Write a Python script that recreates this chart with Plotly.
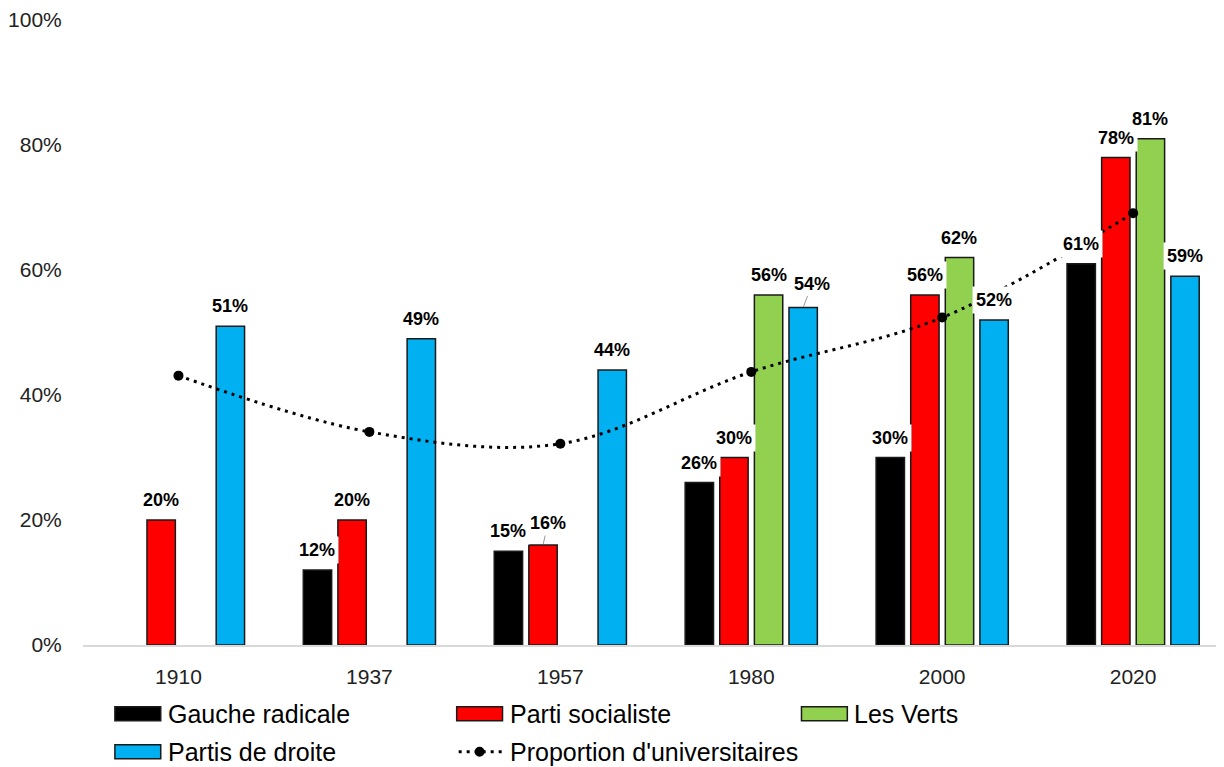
import plotly.graph_objects as go

years = ["1910", "1937", "1957", "1980", "2000", "2020"]
gauche_radicale = [None, 12, 15, 26, 30, 61]
parti_socialiste = [20, 20, 16, 30, 56, 78]
les_verts = [None, None, None, 56, 62, 81]
partis_droite = [51, 49, 44, 54, 52, 59]
universitaires = [43.1, 34.1, 32.2, 43.7, 52.4, 69.1]

series = [
    ("Gauche radicale", gauche_radicale, "#000000"),
    ("Parti socialiste", parti_socialiste, "#FF0000"),
    ("Les Verts", les_verts, "#92D050"),
    ("Partis de droite", partis_droite, "#00B0F0"),
]

OFF = 8  # page body margin
W, H = 1224 - OFF, 767 - OFF
L, R, T, B = 79 - OFF, 0, 18 - OFF, 122
PW, PH = W - L - R, H - T - B
BARGAP = 0.275
BARGROUPGAP = 0.18
FONT = "Liberation Sans, Arial, sans-serif"

fig = go.Figure()
for name, vals, col in series:
    fig.add_trace(go.Bar(
        x=years, y=vals, name=name, marker_color=col,
        marker_line=dict(color="#1a1a1a", width=1.5), showlegend=False,
    ))

fig.add_trace(go.Scatter(
    x=years, y=universitaires, name="Proportion d'universitaires",
    mode="lines+markers", line=dict(color="black", width=3, dash="3px,5px", shape="spline"),
    marker=dict(color="black", size=10), showlegend=False,
))

# data labels
slot = (1 - BARGAP) / 4
special = {(3, 3): (9, -24), (1, 2): (5, -22)}  # leader-line labels
for k, (name, vals, col) in enumerate(series):
    for i, v in enumerate(vals):
        if v is None:
            continue
        xpos = i + (k - 1.5) * slot
        if (k, i) in special:
            ax, ay = special[(k, i)]
            fig.add_annotation(x=xpos, y=v, text=f"<b>{v}%</b>", showarrow=True,
                               arrowhead=0, arrowcolor="#999999", arrowwidth=1,
                               ax=ax, ay=ay, standoff=1,
                               font=dict(family=FONT, size=18, color="black"),
                               bgcolor="white", borderpad=2)
        else:
            fig.add_annotation(x=xpos, y=v, text=f"<b>{v}%</b>", showarrow=False,
                               yanchor="bottom", yshift=6,
                               font=dict(family=FONT, size=18, color="black"),
                               bgcolor="white", borderpad=3)

# custom legend (positions in page pixels)
def px_x(p):
    return (p - OFF - L) / PW

def px_y(p):
    return (H - B - (p - OFF)) / PH

legend_items = [
    ("Gauche radicale", "#000000", 111, 714, "bar"),
    ("Parti socialiste", "#FF0000", 454, 714, "bar"),
    ("Les Verts", "#92D050", 800, 714, "bar"),
    ("Partis de droite", "#00B0F0", 111, 752, "bar"),
    ("Proportion d'universitaires", "#000000", 454, 752, "line"),
]
sw_w, sw_h = 46, 14
for text, col, x0, yc, kind in legend_items:
    if kind == "bar":
        fig.add_shape(type="rect", xref="paper", yref="paper",
                      x0=px_x(x0), x1=px_x(x0 + sw_w),
                      y0=px_y(yc - sw_h / 2), y1=px_y(yc + sw_h / 2),
                      fillcolor=col, line=dict(color="#1a1a1a", width=1.5))
    else:
        fig.add_shape(type="line", xref="paper", yref="paper",
                      x0=px_x(x0 + 2), x1=px_x(x0 + sw_w), y0=px_y(yc), y1=px_y(yc),
                      line=dict(color="black", width=3, dash="3px,5px"))
        fig.add_shape(type="circle", xref="paper", yref="paper",
                      x0=px_x(x0 + sw_w / 2 - 5), x1=px_x(x0 + sw_w / 2 + 5),
                      y0=px_y(yc - 5), y1=px_y(yc + 5),
                      fillcolor="black", line=dict(color="black", width=0))
    fig.add_annotation(xref="paper", yref="paper", x=px_x(x0 + sw_w + 5), y=px_y(yc),
                       xanchor="left", yanchor="middle", showarrow=False, text=text,
                       font=dict(family=FONT, size=25, color="black"))

fig.update_layout(
    width=W, height=H, autosize=False,
    margin=dict(l=L, r=R, t=T, b=B, pad=0),
    paper_bgcolor="white", plot_bgcolor="white",
    barmode="group", bargap=BARGAP, bargroupgap=BARGROUPGAP,
    font=dict(family=FONT, size=20, color="black"),
    showlegend=False,
)
fig.update_xaxes(type="category", range=[-0.5, 5.476], showline=True,
                 linecolor="#D9D9D9", linewidth=1.5, showgrid=False,
                 ticks="outside", ticklen=12, tickcolor="rgba(0,0,0,0)",
                 tickfont=dict(family=FONT, size=21, color="#222"))
fig.update_yaxes(range=[0, 100], dtick=20, ticksuffix="%", showgrid=False,
                 zeroline=False, showline=False, ticklabeloverflow="allow",
                 ticks="outside", ticklen=16, tickcolor="rgba(0,0,0,0)",
                 tickfont=dict(family=FONT, size=21, color="#222"))

fig.write_html("out.html")
